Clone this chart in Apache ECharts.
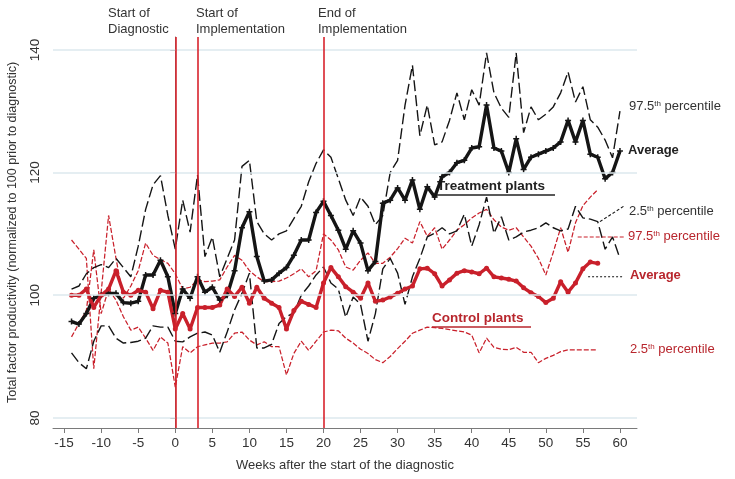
<!DOCTYPE html>
<html>
<head>
<meta charset="utf-8">
<script src="https://cdn.jsdelivr.net/npm/echarts@6.0.0/dist/echarts.min.js"></script>
<style>
  html, body { margin: 0; padding: 0; background: #fff; }
  #chart { width: 735px; height: 479px; }
</style>
</head>
<body>
<div id="chart"></div>
<script>
// weeks after the start of the diagnostic
const weeksTreat = [-14,-13,-12,-11,-10,-9,-8,-7,-6,-5,-4,-3,-2,-1,0,1,2,3,4,5,6,7,8,9,10,11,12,13,14,15,16,17,18,19,20,21,22,23,24,25,26,27,28,29,30,31,32,33,34,35,36,37,38,39,40,41,42,43,44,45,46,47,48,49,50,51,52,53,54,55,56,57,58,59,60];
const weeksCtrl = [-14,-13,-12,-11,-10,-9,-8,-7,-6,-5,-4,-3,-2,-1,0,1,2,3,4,5,6,7,8,9,10,11,12,13,14,15,16,17,18,19,20,21,22,23,24,25,26,27,28,29,30,31,32,33,34,35,36,37,38,39,40,41,42,43,44,45,46,47,48,49,50,51,52,53,54,55,56,57];

// treatment plants
const treatAvg = [95.7,95.3,97,99.5,100,100.3,100.3,98.8,98.7,99,103.3,103.3,105.7,103,
  97,101,99.5,103,100.5,101.3,99.2,100,104,111,113.6,106.3,102.3,102.5,103.6,104.5,106.5,109,109,113.5,
  115.3,113,110.6,107.5,110.5,108.5,104,105.5,115,115.5,117.5,115.5,118.8,114,117.7,116,119.3,120,121.6,122,
  124,124.2,131,124,123.5,120,125.5,120.5,122.5,123,123.5,124,125,128.5,125,128.5,123,122.5,119,120,123.5];
const treatP97 = [101,101.5,103.5,104.5,105,104.5,106,104.5,103,108,114,118,119.5,113,
  107.5,115.5,110.3,119.6,106.3,109.5,103,106,109,121,122,112,110,109,110,110.5,112.5,114.5,118.5,121.5,
  123.7,122.5,119,115.5,113,116,114.5,111.5,113,120,122,131,137.5,126,131,124.5,125,128.5,133,128.6,
  133.5,131,139.5,133,130.5,129,139.5,126.5,130.7,128.6,129.5,130.7,133,136.4,131.5,134,128.6,127.4,125.3,122.4,130];
const treatP2 = [90.6,89,88,92.5,95,95,93,92.2,92.3,92.5,93,95,94.8,94.8,
  92.5,92.4,93.2,93.8,94,93.5,90.7,94,97.6,100.3,103.6,91.4,91.4,92,95.4,96.5,97.1,100,101.5,103.3,
  104.6,102,101,96.4,99.7,98.5,92.5,97,104.3,106,103.6,98.5,103,106,109.5,110.1,111,110,110.5,113.2,
  108,111.5,116,110.1,112.8,109,109.5,110.3,110.6,111,111.8,111,110.5,110.8,114.5,112.6,112.4,112,107.5,109.5,106];

// control plants
const ctrlAvg = [100,100,101,98,100,101,104,100.5,100,100.8,100.5,97.8,100.8,100.5,
  94.5,97,94.5,98,98,98,98.4,101,99.8,101.3,98.7,101.3,99.5,98.7,98,94.5,97.5,99,98.5,98,
  102,104.5,103,101.4,100.5,99.5,102,99,99.2,99.7,100.3,101,101.5,104.3,104.4,103.5,101.5,102.5,103.6,104,
  103.8,103.5,104.4,103,102.8,102.6,102.3,101.2,100.4,99.8,98.8,99.5,102.2,100.5,102,104.3,105.4,105.2];
const ctrlP97 = [109,107.5,106,88,100.5,113,106,99.5,101.5,104,108.5,106.5,105.8,105.2,
  103.5,101,101.3,102.5,102.2,102.3,102.5,104.6,106.5,105.7,104,103,102.2,102.2,102.3,102.8,103.5,104.3,103,104,
  110,109,107.4,104.6,104.1,105.7,106.9,105.2,105.2,106.2,107.6,109.3,108.5,112,109.6,111,107.5,109,110.6,111.5,
  112.6,113.4,114,112.3,111.1,110.6,111,109.5,108,106,103.3,107,111,107,111.8,114.6,116,117.2];
const ctrlP2 = [93.2,95.4,97.5,107.4,97,101,99.2,96.5,94.3,94.8,93,91,93.2,92.2,
  85,91.6,90.6,91.6,91.9,92.2,92.2,92.4,93.8,94,92.7,91.9,92.4,91.6,91.6,87,90.5,92.5,91,92.5,
  94,94.3,94.2,93,92.2,91.2,90.5,89.5,89,90,91.3,92.5,93.8,94.3,94.8,94.7,94.6,94.4,94.2,94,
  93.5,90.6,93,91.5,91.2,91.1,91.5,90.7,90.7,89,89.7,90.2,90.8,91.1,91.1,91.1,91.1,91.1];

// leader lines to the labels on the right
const leadTreatP2 = [[57.3, 112], [60.5, 114.5]];
const leadCtrlP97 = [[54.3, 109.5], [60.7, 109.5]];
const leadCtrlAvg = [[55.7, 103], [60.3, 103]];

// axis ticks and event weeks
const xTicks = [-15,-10,-5,0,5,10,15,20,25,30,35,40,45,50,55,60];
const yTicks = [80,100,120,140];
const eventWeeks = [0, 3, 20];

const pair = (xs, ys) => xs.map((x, i) => [x, ys[i]]);

const BLACK = '#151515';
const RED = '#c9202b';
const RED_TXT = '#b8262d';
const FONT = 'Liberation Sans, Arial, sans-serif';

function pct(x, y, num, color) {
  return {
    type: 'text', x: x, y: y,
    style: {
      text: '{n|' + num + '}{s|th}{n| percentile}', fill: color,
      rich: {
        n: { fontSize: 13, fontFamily: FONT, fill: color },
        s: { fontSize: 8, fontFamily: FONT, fill: color, verticalAlign: 'top' }
      }
    }
  };
}

let chart = echarts.init(document.getElementById('chart'));

let option = {
  animation: false,
  textStyle: { fontFamily: FONT },
  grid: { left: 53, right: 98, top: 37, bottom: 51, outerBoundsMode: 'none', containLabel: false },
  xAxis: {
    type: 'value',
    min: -16.5,
    max: 62.3,
    name: 'Weeks after the start of the diagnostic',
    nameLocation: 'middle',
    nameGap: 31,
    nameTextStyle: { fontSize: 13, color: '#333' },
    axisLine: { lineStyle: { color: '#7a7a7a', width: 1 } },
    axisTick: { customValues: xTicks, length: 5, lineStyle: { color: '#7a7a7a' } },
    axisLabel: { customValues: xTicks, fontSize: 13.5, color: '#333', margin: 8 },
    splitLine: { show: false }
  },
  yAxis: {
    type: 'value',
    min: 78.35,
    max: 142.1,
    name: 'Total factor productivity (normalized to 100 prior to diagnostic)',
    nameLocation: 'middle',
    nameGap: 34,
    nameTextStyle: { fontSize: 12.5, color: '#333' },
    axisLine: { show: true, lineStyle: { color: '#7a7a7a', width: 1 } },
    axisTick: { show: true, customValues: yTicks, length: 5, lineStyle: { color: '#7a7a7a' } },
    axisLabel: { customValues: yTicks, rotate: 90, fontSize: 13.5, color: '#333', margin: 11 },
    splitLine: { show: false }
  },
  series: [
    {
      name: 'Control 97.5th',
      type: 'line',
      data: pair(weeksCtrl, ctrlP97),
      symbol: 'none',
      lineStyle: { color: RED, width: 1.25, type: [5, 2] },
      markLine: {
        silent: true,
        symbol: 'none',
        label: { show: false },
        lineStyle: { color: '#dde9ee', width: 1.5, type: 'solid' },
        data: yTicks.map(v => ({ yAxis: v }))
      }
    },
    {
      name: 'Control 2.5th',
      type: 'line',
      data: pair(weeksCtrl, ctrlP2),
      symbol: 'none',
      lineStyle: { color: RED, width: 1.25, type: [5, 2] },
      markLine: {
        silent: true,
        symbol: 'none',
        label: { show: false },
        lineStyle: { color: '#d8232c', width: 1.6, type: 'solid' },
        data: eventWeeks.map(w => ({ xAxis: w }))
      }
    },
    {
      name: 'Treatment 97.5th',
      type: 'line',
      data: pair(weeksTreat, treatP97),
      symbol: 'none',
      lineStyle: { color: BLACK, width: 1.4, type: [11, 4] }
    },
    {
      name: 'Treatment 2.5th',
      type: 'line',
      data: pair(weeksTreat, treatP2),
      symbol: 'none',
      lineStyle: { color: BLACK, width: 1.4, type: [11, 4] }
    },
    {
      name: 'lead1',
      type: 'line',
      data: leadTreatP2,
      symbol: 'none',
      lineStyle: { color: BLACK, width: 1.1, type: [3, 2] }
    },
    {
      name: 'lead2',
      type: 'line',
      data: leadCtrlP97,
      symbol: 'none',
      lineStyle: { color: RED, width: 1.1, type: [4, 2] }
    },
    {
      name: 'lead3',
      type: 'line',
      data: leadCtrlAvg,
      symbol: 'none',
      lineStyle: { color: BLACK, width: 1.1, type: [2, 2] }
    },
    {
      name: 'Treatment average',
      type: 'line',
      data: pair(weeksTreat, treatAvg),
      symbol: 'path://M3,0h2v3h3v2h-3v3h-2v-3h-3v-2h3z',
      symbolSize: 6,
      itemStyle: { color: BLACK },
      lineStyle: { color: BLACK, width: 3.4 }
    },
    {
      name: 'Control average',
      type: 'line',
      data: pair(weeksCtrl, ctrlAvg),
      symbol: 'circle',
      symbolSize: 5,
      itemStyle: { color: RED },
      lineStyle: { color: RED, width: 3.4 }
    }
  ],
  graphic: [
    { type: 'text', x: 108, y: 5, style: { text: 'Start of\nDiagnostic', font: '13px ' + FONT, fill: '#333', lineHeight: 16 } },
    { type: 'text', x: 196, y: 5, style: { text: 'Start of\nImplementation', font: '13px ' + FONT, fill: '#333', lineHeight: 16 } },
    { type: 'text', x: 318, y: 5, style: { text: 'End of\nImplementation', font: '13px ' + FONT, fill: '#333', lineHeight: 16 } },
    pct(629, 100, '97.5', '#333'),
    { type: 'text', x: 628, y: 144, style: { text: 'Average', font: 'bold 13px ' + FONT, fill: '#222' } },
    { type: 'text', x: 437, y: 179, style: { text: 'Treatment plants', font: 'bold 13.5px ' + FONT, fill: '#222' } },
    { type: 'line', shape: { x1: 437, y1: 195, x2: 555, y2: 195 }, style: { stroke: '#222', lineWidth: 1.3 } },
    pct(629, 205, '2.5', '#333'),
    pct(628, 230, '97.5', RED_TXT),
    { type: 'text', x: 630, y: 269, style: { text: 'Average', font: 'bold 13px ' + FONT, fill: RED_TXT } },
    { type: 'text', x: 432, y: 311, style: { text: 'Control plants', font: 'bold 13.5px ' + FONT, fill: RED_TXT } },
    { type: 'line', shape: { x1: 432, y1: 327, x2: 531, y2: 327 }, style: { stroke: RED_TXT, lineWidth: 1.3 } },
    pct(630, 343, '2.5', RED_TXT)
  ]
};

chart.setOption(option);
</script>
</body>
</html>
